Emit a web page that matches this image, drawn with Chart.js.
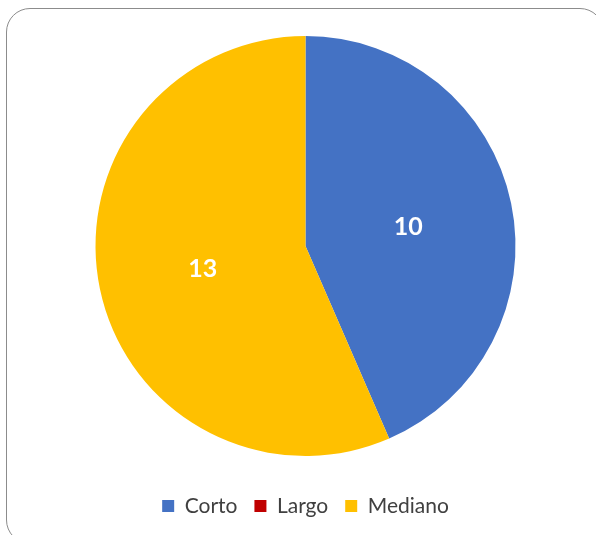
<!DOCTYPE html>
<html>
<head>
<meta charset="utf-8">
<script src="https://cdn.jsdelivr.net/npm/chart.js@4/dist/chart.umd.min.js"></script>
<style>
  html, body { margin: 0; padding: 0; background: #fff; overflow: hidden; }
  #wrap { position: relative; width: 596px; height: 535px; }
  #frame {
    position: absolute; left: 6px; top: 8px; width: 598px; height: 536px;
    border: 1.5px solid #8c8c8c; border-radius: 24px; box-sizing: border-box;
  }
  canvas { position: absolute; left: 0; top: 0; }
</style>
</head>
<body>
<div id="wrap">
  <div id="frame"></div>
  <canvas id="chart" width="596" height="535"></canvas>
</div>
<script>
const categories = ['Corto', 'Largo', 'Mediano'];
const counts = [10, 0, 13];
const colors = ['#4472C4', '#C00000', '#FFC000'];

// value labels in the middle of each slice
const sliceLabels = {
  id: 'sliceLabels',
  afterDatasetsDraw(chart) {
    const ctx = chart.ctx;
    const meta = chart.getDatasetMeta(0);
    ctx.save();
    ctx.fillStyle = '#fff';
    ctx.font = 'bold 25px Lato';
    ctx.textAlign = 'center';
    ctx.textBaseline = 'middle';
    meta.data.forEach((arc, i) => {
      const v = counts[i];
      if (!v) return;
      const p = arc.getProps(['x', 'y', 'startAngle', 'endAngle', 'outerRadius'], true);
      const mid = (p.startAngle + p.endAngle) / 2;
      const r = p.outerRadius * 0.5;
      ctx.fillText(String(v), p.x + Math.cos(mid) * r, p.y + Math.sin(mid) * r + 2);
    });
    ctx.restore();
  }
};

new Chart(document.getElementById('chart').getContext('2d'), {
  type: 'pie',
  data: {
    labels: categories,
    datasets: [{
      data: counts,
      backgroundColor: colors,
      borderWidth: 0
    }]
  },
  options: {
    responsive: false,
    devicePixelRatio: 1,
    animation: false,
    layout: { padding: { top: 36, left: 20, right: 5, bottom: 8.5 } },
    plugins: {
      tooltip: { enabled: false },
      legend: {
        position: 'bottom',
        title: { display: true, text: '', font: { size: 1, lineHeight: 1 }, padding: { top: 21.5, bottom: 0 } },
        labels: {
          boxWidth: 12,
          boxHeight: 12,
          padding: 17,
          color: '#404040',
          font: { family: 'Lato', size: 21 }
        }
      }
    }
  },
  plugins: [sliceLabels]
});
</script>
</body>
</html>
